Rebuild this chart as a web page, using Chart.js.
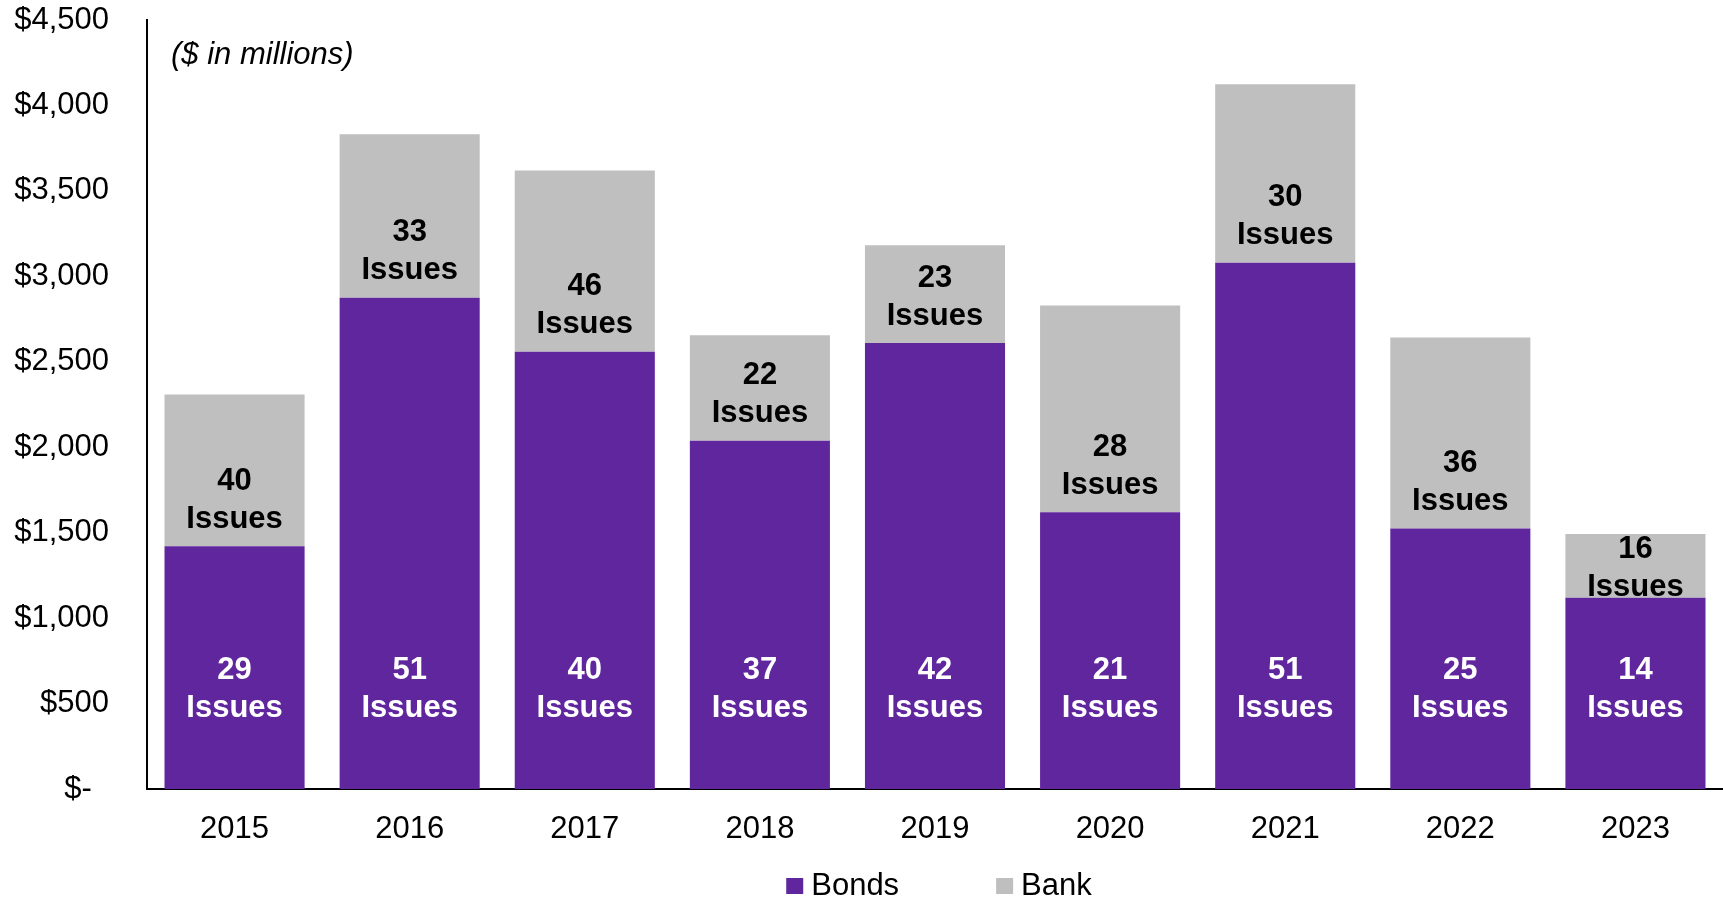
<!DOCTYPE html>
<html>
<head>
    <title>Bonds vs Bank</title>
    <style>
        body { margin: 0; background: #fff; }
        #wrap { width: 1723px; height: 900px; }
    </style>
</head>
<body>
    <div id="wrap"><canvas id="issuesChart" width="1723" height="900"></canvas></div>

    <script src="https://cdn.jsdelivr.net/npm/chart.js"></script>
    <script>
        const years = ['2015', '2016', '2017', '2018', '2019', '2020', '2021', '2022', '2023'];
        const bondsAmount = [1421, 2874, 2559, 2038, 2610, 1620, 3080, 1524, 1119];
        const bankAmount = [887, 957, 1060, 617, 572, 1209, 1044, 1118, 373];
        const bondsIssues = [29, 51, 40, 37, 42, 21, 51, 25, 14];
        const bankIssues = [40, 33, 46, 22, 23, 28, 30, 36, 16];
        const yTickLabels = ['$-  ', '$500', '$1,000', '$1,500', '$2,000', '$2,500', '$3,000', '$3,500', '$4,000', '$4,500'];

        const PURPLE = '#60269E';
        const GREY = '#BFBFBF';
        const FONT = "'Liberation Sans', Arial, sans-serif";

        Chart.defaults.font.family = FONT;
        Chart.defaults.color = '#000';

        // issue counts inside the bars + unit note + legend
        const extras = {
            id: 'extras',
            afterDatasetsDraw(chart) {
                const ctx = chart.ctx;
                const area = chart.chartArea;
                ctx.save();
                ctx.textAlign = 'center';
                ctx.textBaseline = 'middle';
                ctx.font = 'bold 31px ' + FONT;

                chart.getDatasetMeta(0).data.forEach((bar, i) => {
                    const c = bar.base - 100;
                    ctx.fillStyle = '#fff';
                    ctx.fillText(String(bondsIssues[i]), bar.x, c - 19);
                    ctx.fillText('Issues', bar.x, c + 19);
                });
                chart.getDatasetMeta(1).data.forEach((bar, i) => {
                    // sits near the base of the grey segment, centred when the segment is short
                    const off = Math.min(46, (bar.base - bar.y) / 2 - 3);
                    const c = bar.base - off;
                    ctx.fillStyle = '#000';
                    ctx.fillText(String(bankIssues[i]), bar.x, c - 19);
                    ctx.fillText('Issues', bar.x, c + 19);
                });

                ctx.textAlign = 'left';
                ctx.font = 'italic 31px ' + FONT;
                ctx.fillText('($ in millions)', area.left + 24, 55);

                // legend
                ctx.font = '31px ' + FONT;
                const items = chart.data.datasets.map(d => ({ text: d.label, color: d.backgroundColor }));
                const widths = items.map(it => 17 + 8 + ctx.measureText(it.text).width);
                const total = widths.reduce((a, b) => a + b, 0) + 97 * (items.length - 1);
                let x = (area.left + area.right) / 2 + 4 - total / 2;
                const y = 886;
                items.forEach((it, i) => {
                    ctx.fillStyle = it.color;
                    ctx.fillRect(x, y - 8, 17, 16);
                    ctx.fillStyle = '#000';
                    ctx.fillText(it.text, x + 25, y);
                    x += widths[i] + 97;
                });
                ctx.restore();
            }
        };

        new Chart(document.getElementById('issuesChart'), {
            type: 'bar',
            data: {
                labels: years,
                datasets: [
                    { label: 'Bonds', data: bondsAmount, backgroundColor: PURPLE },
                    { label: 'Bank', data: bankAmount, backgroundColor: GREY }
                ]
            },
            options: {
                responsive: false,
                animation: false,
                categoryPercentage: 1.0,
                barPercentage: 0.8,
                layout: { padding: { top: 20, right: 0, bottom: 0, left: 0 } },
                plugins: {
                    legend: { display: false },
                    tooltip: { enabled: false }
                },
                scales: {
                    x: {
                        stacked: true,
                        grid: { display: false, drawTicks: false },
                        border: { display: true, color: '#000', width: 2 },
                        ticks: { font: { size: 31 }, padding: 22, color: '#000' },
                        afterFit(scale) { scale.height = 111; scale.paddingLeft = 0; scale.paddingRight = 0; }
                    },
                    y: {
                        stacked: true,
                        min: 0,
                        max: 4500,
                        grid: { display: false, drawTicks: false },
                        border: { display: true, color: '#000', width: 2 },
                        ticks: {
                            stepSize: 500,
                            font: { size: 31 },
                            padding: 38,
                            color: '#000',
                            callback: (v, i) => yTickLabels[i]
                        },
                        afterFit(scale) { scale.width = 147; scale.paddingTop = 0; scale.paddingBottom = 0; }
                    }
                }
            },
            plugins: [extras]
        });
    </script>
</body>
</html>
